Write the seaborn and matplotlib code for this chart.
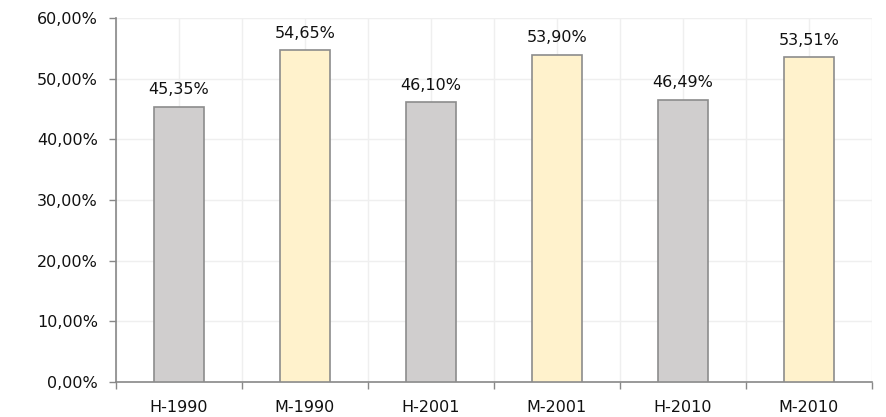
import matplotlib
matplotlib.use("Agg")
import matplotlib.pyplot as plt
import seaborn as sns
import pandas as pd
from matplotlib.ticker import FuncFormatter, FixedLocator

categories = ["H-1990", "M-1990", "H-2001", "M-2001", "H-2010", "M-2010"]
values = [45.35, 54.65, 46.10, 53.90, 46.49, 53.51]
colors = ["#D0CECE", "#FFF2CC", "#D0CECE", "#FFF2CC", "#D0CECE", "#FFF2CC"]

df = pd.DataFrame({"cat": categories, "val": values})

sns.set_theme(style="white")
plt.rcParams["font.family"] = ["DejaVu Sans"]
plt.rcParams["font.sans-serif"] = ["DejaVu Sans"]
FS = 11.5

fig = plt.figure(figsize=(8.87, 4.17), dpi=100)
ax = fig.add_axes([116 / 887, 1 - 382 / 417, (872 - 116) / 887, (382 - 18) / 417])

sns.barplot(data=df, x="cat", y="val", hue="cat", palette=colors, legend=False, saturation=1,
            width=0.40, edgecolor="#8C8C8C", linewidth=1.2, ax=ax, zorder=3)

ax.set_xlim(-0.5, len(categories) - 0.5)
ax.set_ylim(0, 60)
ax.set_yticks(range(0, 61, 10))
ax.yaxis.set_major_formatter(FuncFormatter(lambda v, p: f"{v:.2f}%".replace(".", ",")))

# grid lines at category centres and boundaries
for x in [i - 0.5 for i in range(len(categories) + 1)] + list(range(len(categories))):
    ax.axvline(x, color="#EFEFEF", lw=1, zorder=0)
for y in range(10, 61, 10):
    ax.axhline(y, color="#EFEFEF", lw=1, zorder=0)

ax.xaxis.set_minor_locator(FixedLocator([i - 0.5 for i in range(len(categories) + 1)]))
ax.tick_params(axis="x", which="minor", length=5, width=1, color="#888888", direction="out", bottom=True)
ax.tick_params(axis="x", which="major", length=0, labelsize=FS, colors="#111111", pad=13)
ax.tick_params(axis="y", which="major", length=5, width=1, color="#888888", direction="out", left=True,
               labelsize=FS, labelcolor="#111111", pad=8)
for lbl in ax.get_xticklabels() + ax.get_yticklabels():
    lbl.set_fontfamily("DejaVu Sans")

for s in ["top", "right"]:
    ax.spines[s].set_visible(False)
for s in ["left", "bottom"]:
    ax.spines[s].set_color("#888888")
    ax.spines[s].set_linewidth(1.2)

ax.set_xlabel("")
ax.set_ylabel("")

for i, v in enumerate(values):
    ax.annotate(f"{v:.2f}%".replace(".", ","), (i, v), xytext=(0, 7), textcoords="offset points",
                ha="center", va="bottom", fontsize=FS, color="#111111", family="DejaVu Sans")

fig.savefig("out.png", dpi=100)
